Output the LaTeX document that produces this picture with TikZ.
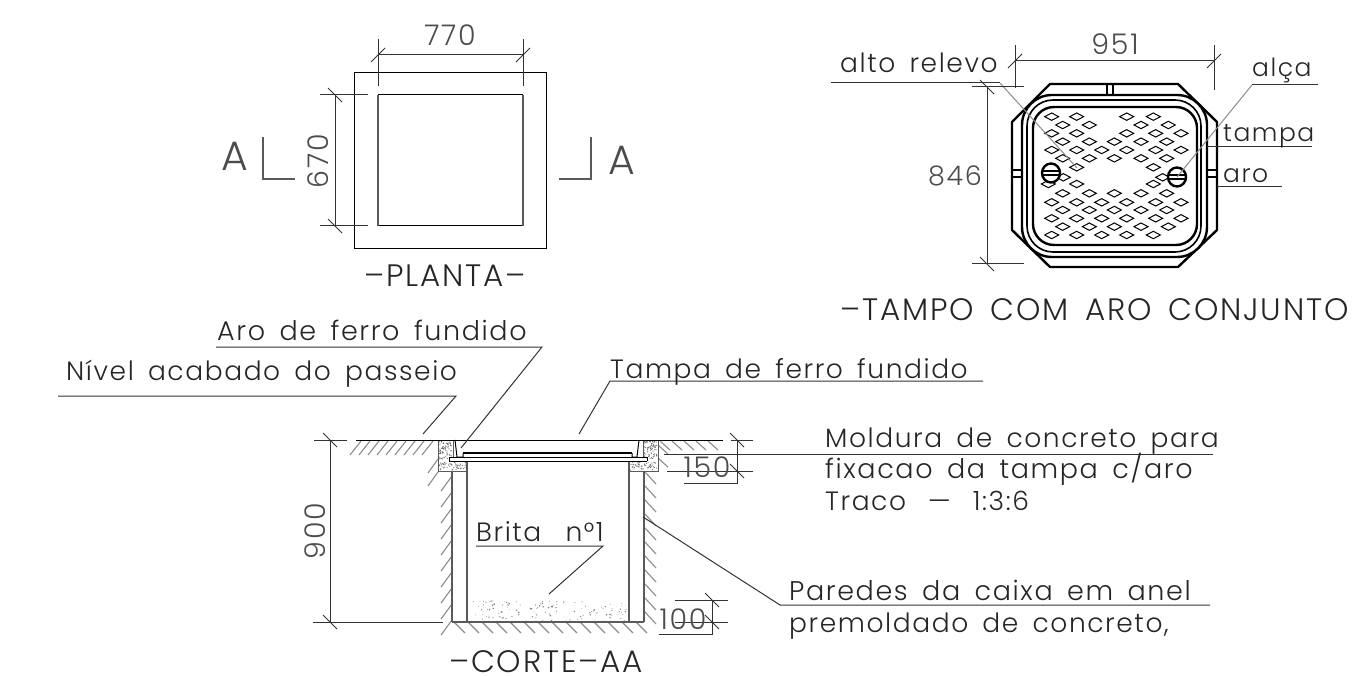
\documentclass[tikz,border=0pt]{standalone}
\usepackage{fontspec}
\setmainfont{Poppins}[UprightFont=* Light,LetterSpace=6,WordSpace=1.6]
\usetikzlibrary{calc}
\usetikzlibrary{positioning}

\definecolor{linegrey}{HTML}{5A5A5A}
\definecolor{hatchgrey}{HTML}{8C8C8C}

\tikzset{
    label/.style={inner sep=0, anchor=base west, text=black!85, font=\fontsize{26.5}{30}\selectfont},
    widelabel/.style={label, font=\fontsize{27}{30}\selectfont},
    shortlabel/.style={label, font=\fontsize{25}{30}\selectfont},
    title/.style={label, font=\fontsize{31}{34}\selectfont},
    measure/.style={inner sep=0, anchor=base, text=black!70, font=\fontsize{28.5}{30}\selectfont},
    letterA/.style={measure, font=\fontsize{41}{44}\selectfont},
    wall/.style={draw=linegrey, line width=1.2pt},
    edgeline/.style={draw=black, line width=1pt},
    dimline/.style={draw=black!80, line width=1pt},
    leader/.style={draw=black!80, line width=1pt},
    paleleader/.style={draw=black!45, line width=1pt},
    hatch/.style={draw=hatchgrey, line width=1.1pt},
    casting/.style={draw=black, line width=2.4pt},
    vent/.style={draw=black, line width=1pt}
}

\newcommand{\ticku}[1]{\draw[dimline] ($(#1)+(-7,7)$) -- ($(#1)+(7,-7)$);}
\newcommand{\tickd}[1]{\draw[dimline] ($(#1)+(-7,-7)$) -- ($(#1)+(7,7)$);}

\begin{document}
\begin{tikzpicture}[x=1pt,y=-1pt]
    \useasboundingbox (0,0) rectangle (1360,676);

    % planta
    \draw[edgeline] (354,73) rectangle (546,249);
    \draw[edgeline] (378,95) -- (523,95);
    \draw[edgeline] (378,226) -- (523,226);
    \draw[wall] (378,95) -- (378,226);
    \draw[wall] (523,95) -- (523,226);

    \coordinate (w1) at (378,55);
    \coordinate (w2) at (523,55);
    \coordinate (h1) at (335,95);
    \coordinate (h2) at (335,226);
    \draw[dimline] (w1) -- (w2);
    \draw[dimline] (h1) -- (h2);
    \draw[dimline] (378,39) -- (378,86);
    \draw[dimline] (523,39) -- (523,86);
    \draw[dimline] (320,95) -- (368,95);
    \draw[dimline] (320,226) -- (368,226);
    \ticku{w1} \ticku{w2} \tickd{h1} \tickd{h2}

    \draw[wall] (263,137) -- (263,179) -- (295,179);
    \draw[wall] (559,179) -- (591,179) -- (591,137);

    \node[measure] (n770) at (450,46) {770};
    \node[measure, rotate=90] (n670) at (328,161) {670};
    \node[letterA] (aleft) at (235,171) {A};
    \node[letterA] (aright) at (622,175) {A};
    \node[title, anchor=base] (planta) at (445,287) {\textendash PLANTA\textendash};

    % tampo
    \draw[casting] (1050,84) -- (1178,84) -- (1217,122) -- (1217,230) -- (1178,267) -- (1050,267) -- (1012,230) -- (1012,122) -- cycle;
    \draw[casting, fill=white, rounded corners=30] (1022,95) rectangle (1207,257);
    \draw[casting, line width=1.6pt, rounded corners=26] (1027,100) rectangle (1201,252);
    \draw[casting, rounded corners=21] (1033,107) rectangle (1197,245);
    \draw[vent, line width=1.5pt] (1107,84) -- (1107,95);
    \draw[vent, line width=1.5pt] (1113,84) -- (1113,95);
    \draw[vent, line width=1.5pt] (1012,170) -- (1023,170);
    \draw[vent, line width=1.5pt] (1012,177) -- (1023,177);
    \draw[vent, line width=1.5pt] (1207,170) -- (1217,170);
    \draw[vent, line width=1.5pt] (1207,177) -- (1217,177);

    \begin{scope}[shift={(980,60)}]
        \foreach \row/\cols in {170/{215,290,440,520},
                                195/{248,328,483,565},
                                220/{215,290,440,527,603},
                                245/{248,328,403,483,560},
                                270/{215,290,365,440,527,603},
                                295/{248,328,403,483,560},
                                322/{290,520},
                                352/{250,548},
                                372/{205,290,520},
                                400/{248,328,403,483,560},
                                427/{215,290,365,440,527,603},
                                450/{248,328,403,483,560},
                                475/{215,290,365,440,527,603},
                                500/{248,328,403,483,565},
                                525/{215,290,365,440,520}} {
            \foreach \col in \cols {
                \draw[vent] (\col/3-7,\row/3) -- (\col/3,\row/3-3.7) -- (\col/3+7,\row/3) -- (\col/3,\row/3+3.7) -- cycle;
            }
        }
    \end{scope}

    \draw[casting, fill=white] (1051,173) ellipse (9 and 9.5);
    \draw[casting, fill=white] (1177,177) ellipse (9 and 9.5);
    \draw[vent, line width=1.4pt] (1042,171) -- (1060,171);
    \draw[vent, line width=1.4pt] (1042,175) -- (1060,175);
    \draw[vent, line width=1.4pt] (1168,175) -- (1186,175);
    \draw[vent, line width=1.4pt] (1168,179) -- (1186,179);

    \coordinate (altobase) at (1000,83);
    \coordinate (altotip) at (1077,168);
    \coordinate (alcabase) at (1252,85);
    \coordinate (alcatip) at (1177,177);
    \draw[leader] (831,83) -- (altobase);
    \draw[leader] (alcabase) -- (1318,85);
    \draw[paleleader] (altobase) -- (altotip);
    \draw[paleleader] (alcabase) -- (alcatip);
    \draw[leader] (1207,147) -- (1312,147);
    \draw[leader] (1217,187) -- (1282,187);

    \coordinate (t1) at (1015,61);
    \coordinate (t2) at (1214,61);
    \coordinate (v1) at (987,87);
    \coordinate (v2) at (987,264);
    \draw[dimline] (t1) -- (t2);
    \draw[dimline] (v1) -- (v2);
    \draw[dimline] (1015,45) -- (1015,88);
    \draw[dimline] (1214,45) -- (1214,90);
    \draw[dimline] (972,87) -- (1024,87);
    \draw[dimline] (972,264) -- (1024,264);
    \ticku{t1} \ticku{t2} \tickd{v1} \tickd{v2}

    \node[measure] (n951) at (1115,55) {951};
    \node[measure, font=\fontsize{27}{30}\selectfont] (n846) at (955,186) {846};
    \node[label] (alto) at (840,73) {alto relevo};
    \node[shortlabel] (alca) at (1252,77) {alça};
    \node[shortlabel] (tampa) at (1223,142) {tampa};
    \node[shortlabel] (aro) at (1223,183) {aro};
    \node[title] (tampo) at (840,320) {\textendash TAMPO COM ARO CONJUNTO};

    % corte
    \foreach \x in {350,359,...,422} {\draw[hatch] (\x,455) -- (\x+11,441);}
    \foreach \x in {660,672,...,708} {\draw[hatch] (\x,441) -- (\x+10,450);}
    \foreach \y in {473,486} {\draw[hatch] (428,\y) -- (438,\y-14);}
    \foreach \y in {491,507,...,635} {\draw[hatch] (441,\y) -- (452,\y-15);}
    \foreach \y in {445,458} {\draw[hatch] (658,\y) -- (668,\y+9);}
    \foreach \y in {472,486,...,612} {\draw[hatch] (645,\y) -- (656,\y+12);}
    \foreach \x in {454,468,...,636} {\draw[hatch] (\x,622) -- (\x+11,633);}

    \draw[wall, line width=1pt] (453,440) -- (453,457);
    \draw[wall, line width=1pt] (438,440) -- (438,471) -- (467,471);
    \draw[wall, line width=1pt] (628,471) -- (658,471) -- (658,440);
    \draw[wall, line width=1pt] (643,440) -- (643,457);
    \draw[wall] (452,471) -- (452,622);
    \draw[wall] (467,461) -- (467,622);
    \draw[wall] (629,461) -- (629,622);
    \draw[wall] (644,471) -- (644,622);
    \draw[wall] (452,622) -- (644,622);

    % concreto e brita
    \pgfmathsetseed{42}
    \foreach \i in {1,...,130} {
        \pgfmathsetmacro{\px}{470+157*rnd}
        \pgfmathsetmacro{\py}{601+20*rnd}
        \pgfmathsetmacro{\pr}{.25+.6*rnd}
        \fill[black!50] (\px,\py) circle (\pr);
    }
    \foreach \i in {1,...,70} {
        \pgfmathsetmacro{\px}{439+13*rnd}
        \pgfmathsetmacro{\py}{441+18*rnd}
        \fill[black!60] (\px,\py) circle (.6);
        \pgfmathsetmacro{\px}{644+13*rnd}
        \pgfmathsetmacro{\py}{441+18*rnd}
        \fill[black!60] (\px,\py) circle (.6);
    }
    \foreach \i in {1,...,50} {
        \pgfmathsetmacro{\px}{439+27*rnd}
        \pgfmathsetmacro{\py}{462+8*rnd}
        \fill[black!60] (\px,\py) circle (.6);
        \pgfmathsetmacro{\px}{630+27*rnd}
        \pgfmathsetmacro{\py}{462+8*rnd}
        \fill[black!60] (\px,\py) circle (.6);
    }

    \draw[edgeline] (449,457) -- (647,457);
    \draw[edgeline] (449,461) -- (647,461);
    \draw[edgeline] (449,457) -- (449,461);
    \draw[edgeline] (647,457) -- (647,461);
    \draw[edgeline] (455,440) -- (457,457) -- (463,457) -- (463,453);
    \draw[edgeline] (639,440) -- (637,457) -- (632,457) -- (632,453);
    \draw[edgeline, line width=1.8pt] (463,453) -- (632,453);
    \draw[edgeline] (356,440) -- (723,440);

    \coordinate (d1) at (330,440);
    \coordinate (d2) at (330,622);
    \coordinate (a1) at (737,440);
    \coordinate (a2) at (737,471);
    \coordinate (b1) at (712,600);
    \coordinate (b2) at (712,622);
    \draw[dimline] (d1) -- (d2);
    \draw[dimline] (314,440) -- (347,440);
    \draw[dimline] (313,622) -- (443,622);
    \draw[dimline] (a1) -- (737,483) -- (684,483);
    \draw[dimline] (731,440) -- (753,440);
    \draw[dimline] (667,471) -- (753,471);
    \draw[dimline] (b1) -- (712,634) -- (659,634);
    \draw[dimline] (675,600) -- (728,600);
    \draw[dimline] (675,622) -- (728,622);
    \tickd{d1} \tickd{d2} \tickd{a1} \tickd{a2} \tickd{b1} \tickd{b2}

    \coordinate (arobase) at (542,347);
    \coordinate (arotip) at (461,448);
    \coordinate (nivelbase) at (456,396);
    \coordinate (niveltip) at (423,434);
    \coordinate (tampabase) at (610,381);
    \coordinate (tampatip) at (579,434);
    \coordinate (moldtip) at (664,454);
    \coordinate (britabase) at (603,546);
    \coordinate (britatip) at (549,594);
    \coordinate (paredebase) at (780,605);
    \coordinate (paredetip) at (643,517);
    \draw[leader] (216,347) -- (arobase) -- (arotip);
    \draw[leader] (58,396) -- (nivelbase) -- (niveltip);
    \draw[leader] (983,381) -- (tampabase) -- (tampatip);
    \draw[leader] (moldtip) -- (1213,454);
    \draw[leader] (476,546) -- (britabase) -- (britatip);
    \draw[leader] (1210,605) -- (paredebase) -- (paredetip);

    \node[widelabel] (aroferro) at (217,340) {Aro de ferro fundido};
    \node[label] (nivel) at (66,380) {Nível acabado do passeio};
    \node[label] (tampaferro) at (610,378) {Tampa de ferro fundido};
    \node[label] (moldura) at (825,447) {Moldura de concreto para};
    \node[widelabel] (fixacao) at (825,478) {fixacao da tampa c/aro};
    \node[label] (traco) at (825,510) {Traco\hspace{8pt} \textemdash\hspace{8pt} 1:3:6};
    \node[label] (brita) at (476,541) {Brita\hspace{10pt} n°1};
    \node[widelabel] (paredes) at (789,600) {Paredes da caixa em anel};
    \node[label] (premoldado) at (789,632) {premoldado de concreto,};
    \node[title, anchor=base] (corte) at (546,672) {\textendash CORTE\textendash AA};
    \node[measure] (n150) at (707,477) {150};
    \node[measure] (n100) at (683,629) {100};
    \node[measure, rotate=90] (n900) at (325,531) {900};
\end{tikzpicture}
\end{document}
